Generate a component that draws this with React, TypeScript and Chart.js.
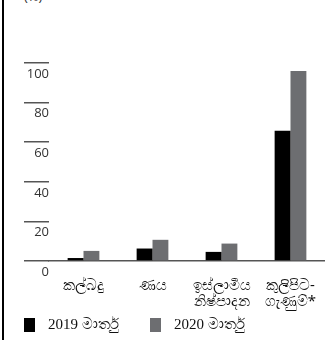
import React, { useEffect, useRef } from "react";
import { Chart, registerables } from "chart.js";

Chart.register(...registerables);

const categories: string[][] = [
  ["කල්බදු"],
  ["ණය"],
  ["ඉස්ලාමීය", "නිෂ්පාදන"],
  ["කුලිපිට-", "ගැණුම්*"],
];
const series2019: number[] = [1.5, 6.3, 4.6, 65.8];
const series2020: number[] = [5.1, 10.7, 8.8, 96];
const legendLabels: string[] = ["2019 මාර්තු", "2020 මාර්තු"];
const yTicks: number[] = [0, 20, 40, 60, 80, 100];
const unitLabel = "(%)";

const BLACK = "#000000";
const GRAY = "#6d6e71";
const LINE = "#555555";

export default function App() {
  const ref = useRef<HTMLCanvasElement | null>(null);
  useEffect(() => {
    document.body.style.margin = "0";
    if (!ref.current) return;
    const chart = new Chart(ref.current, {
      type: "bar",
      data: {
        labels: categories,
        datasets: [
          { label: legendLabels[0], data: series2019, backgroundColor: BLACK },
          { label: legendLabels[1], data: series2020, backgroundColor: GRAY },
        ],
      },
      options: {
        responsive: false,
        animation: false,
        layout: { padding: { top: 63, right: 0, left: 0, bottom: 0 } },
        plugins: { legend: { display: false }, tooltip: { enabled: false } },
        datasets: { bar: { categoryPercentage: 0.46, barPercentage: 1 } },
        scales: {
          x: {
            grid: { display: false },
            border: { display: true, color: LINE, width: 1.5 },
            ticks: {
              color: "#111",
              font: { family: "'Noto Sans', sans-serif", size: 15, lineHeight: 1.1 },
              padding: 8,
              maxRotation: 0,
              autoSkip: false,
            },
          },
          y: {
            min: 0,
            max: 100,
            afterFit: (s: any) => {
              s.width = 49;
            },
            afterBuildTicks: (s: any) => {
              s.ticks = yTicks.map((v) => ({ value: v }));
            },
            grid: {
              drawOnChartArea: false,
              drawTicks: true,
              tickLength: 25,
              color: LINE,
              lineWidth: 1.5,
            },
            border: { display: false },
            ticks: {
              color: "#333",
              font: { family: "'Open Sans', sans-serif", size: 13 },
              padding: -25,
              labelOffset: 11,
            },
          },
        },
      },
    });
    return () => chart.destroy();
  }, []);

  return (
    <div style={{ position: "absolute", left: 0, top: 0, width: 325, height: 340, overflow: "hidden", background: "#fff" }}>
      <div style={{ position: "absolute", left: 2, top: 0, width: 1.5, height: 340, background: "#000" }} />
      <div style={{ position: "absolute", left: 24, top: -11, fontFamily: "'Open Sans', sans-serif", fontSize: 13, lineHeight: "15px", color: "#333" }}>{unitLabel}</div>
      <canvas ref={ref} width={325} height={318} style={{ position: "absolute", left: 0, top: 0 }} />
      <div style={{ position: "absolute", left: 24, top: 318, width: 11, height: 14, background: BLACK }} />
      <div style={{ position: "absolute", left: 48, top: 315, fontFamily: "'Liberation Serif', serif", fontSize: 15, lineHeight: "18px", color: "#111" }}>{legendLabels[0]}</div>
      <div style={{ position: "absolute", left: 150, top: 318, width: 11, height: 14, background: GRAY }} />
      <div style={{ position: "absolute", left: 174, top: 315, fontFamily: "'Liberation Serif', serif", fontSize: 15, lineHeight: "18px", color: "#111" }}>{legendLabels[1]}</div>
    </div>
  );
}
